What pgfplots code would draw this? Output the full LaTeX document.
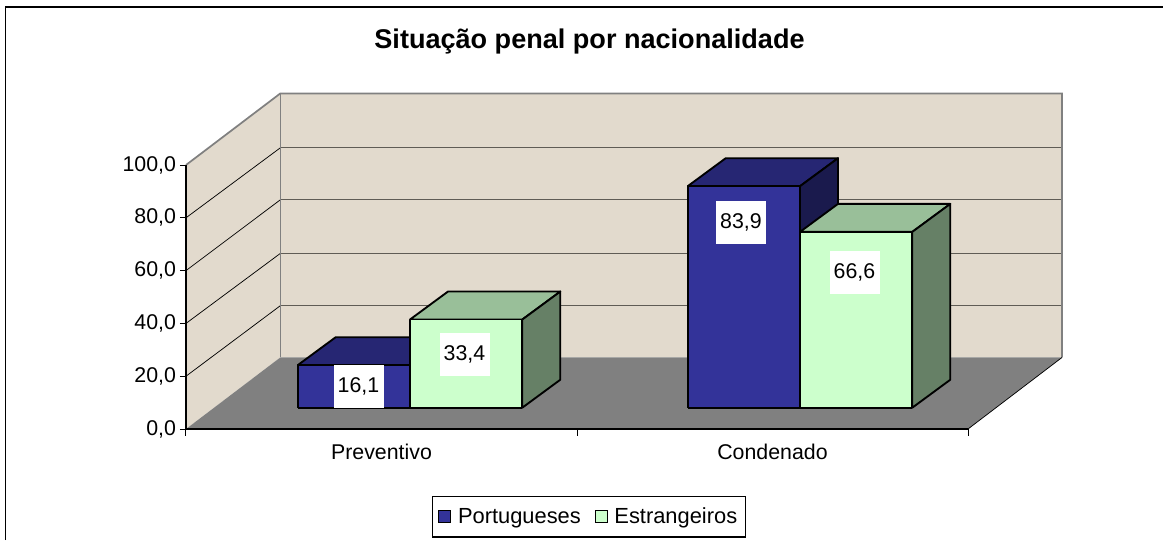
\documentclass[border=0pt]{standalone}
\usepackage{pgfplots}
\pgfplotsset{compat=1.18}
\usepackage{fontspec}
\setmainfont{Liberation Sans}
\definecolor{wall}{RGB}{226,218,205}
\definecolor{floorc}{RGB}{128,128,128}
\definecolor{gridc}{RGB}{95,92,85}
\definecolor{bluef}{RGB}{51,51,153}
\definecolor{bluet}{RGB}{38,38,115}
\definecolor{blues}{RGB}{26,26,77}
\definecolor{greenf}{RGB}{204,255,204}
\definecolor{greent}{RGB}{153,191,153}
\definecolor{greens}{RGB}{102,128,102}
\newcommand\threedbar[6]{% x0, x1, value, front, top, side
  \pgfmathsetmacro\ytop{8.07+#3}%
  \pgfmathsetmacro\ybtop{8.07+#3+10.6}%
  \pgfmathsetmacro\xba{#1+38}%
  \pgfmathsetmacro\xbb{#2+38}%
  \addplot[draw=black,line width=1.4pt,line join=round,fill=#5,forget plot] coordinates {(#1,\ytop) (\xba,\ybtop) (\xbb,\ybtop) (#2,\ytop) (#1,\ytop)};
  \addplot[draw=black,line width=1.4pt,line join=round,fill=#6,forget plot] coordinates {(#2,8.07) (\xbb,18.67) (\xbb,\ybtop) (#2,\ytop) (#2,8.07)};
  \addplot[draw=black,line width=1.4pt,line join=round,fill=#4,forget plot] coordinates {(#1,8.07) (#1,\ytop) (#2,\ytop) (#2,8.07) (#1,8.07)};
}
\begin{document}
\begin{tikzpicture}[x=1pt,y=1pt]
\useasboundingbox (-139.5pt,-83.25pt) rectangle (732.75pt,321.75pt);
\begin{axis}[
  at={(0pt,0pt)},anchor=origin,
  scale only axis,width=586.5pt,height=198pt,
  xmin=186,xmax=968,ymin=0,ymax=100,
  clip=false,
  axis line style={black,line width=0.9pt},
  axis x line*=bottom,axis y line*=left,
  axis on top=true,
  xtick={381.5,772.5},xticklabels={Preventivo,Condenado},
  minor xtick={186,577,968},
  major x tick style={draw=none},
  minor x tick style={black,line width=0.75pt},
  minor tick length=5pt,
  ytick={0,20,40,60,80,100},
  major tick length=4.5pt,
  tick align=outside,
  ytick style={black,line width=0.75pt},
  yticklabel style={/pgf/number format/fixed,/pgf/number format/fixed zerofill,/pgf/number format/precision=1,/pgf/number format/use comma,/pgf/number format/assume math mode=true,xshift=0.5pt},
  scaled y ticks=false,
  tick label style={font=\fontsize{16}{19}\selectfont},
  xticklabel style={yshift=-3.5pt},
  legend style={at={(axis cs:589,-33.2)},anchor=center,draw=black,line width=0.9pt,
    legend columns=2,font=\fontsize{16.4}{19}\selectfont,inner xsep=4.5pt,inner ysep=6.5pt,
    /tikz/every even column/.append style={column sep=8.25pt}},
  legend image code/.code={\draw[#1,line width=1pt,draw=black] (0pt,-4.5pt) rectangle (9pt,4.5pt);\path (12pt,0pt);},
]
% walls and floor
\addplot[draw=none,fill=wall,forget plot] coordinates {(186,0) (280.3,27.1) (280.3,127.1) (186,100) (186,0)};
\addplot[draw=none,fill=wall,forget plot] coordinates {(280.3,27.1) (1062,27.1) (1062,127.1) (280.3,127.1) (280.3,27.1)};
\addplot[draw=none,fill=floorc,forget plot] coordinates {(186,0) (968,0) (1062,27.1) (280.3,27.1) (186,0)};
% gridlines on the side wall and on the back wall
\addplot[draw=black,line width=0.55pt,forget plot] coordinates {(186,20) (280.3,46.7)};
\addplot[draw=black,line width=0.55pt,forget plot] coordinates {(186,40) (280.3,66.5)};
\addplot[draw=black,line width=0.55pt,forget plot] coordinates {(186,60) (280.3,86.8)};
\addplot[draw=black,line width=0.55pt,forget plot] coordinates {(186,80) (280.3,106.5)};
\addplot[draw=gridc,line width=0.85pt,forget plot] coordinates {(280.3,46.7) (1062,46.7)};
\addplot[draw=gridc,line width=0.85pt,forget plot] coordinates {(280.3,66.5) (1062,66.5)};
\addplot[draw=gridc,line width=0.85pt,forget plot] coordinates {(280.3,86.8) (1062,86.8)};
\addplot[draw=gridc,line width=0.85pt,forget plot] coordinates {(280.3,106.5) (1062,106.5)};
% wall edges
\addplot[draw=floorc,line width=1.3pt,forget plot] coordinates {(186,100) (280.3,127.1) (1062,127.1) (1062,27.1)};
\addplot[draw=floorc,line width=1.2pt,forget plot] coordinates {(280.3,127.1) (280.3,27.1)};
\addplot[draw=black,line width=0.55pt,forget plot] coordinates {(968,0) (1062,27.1)};
% bars
\threedbar{297.7}{410}{16.1}{bluef}{bluet}{blues}
\threedbar{687.7}{800}{83.9}{bluef}{bluet}{blues}
\threedbar{410}{522.3}{33.4}{greenf}{greent}{greens}
\threedbar{800}{912.3}{66.6}{greenf}{greent}{greens}
% data labels
\node[fill=white,inner sep=0pt,minimum width=37.5pt,minimum height=32pt,font=\fontsize{16}{19}\selectfont] at (axis cs:358.5,16) {16,1};
\node[fill=white,inner sep=0pt,minimum width=37.5pt,minimum height=32pt,font=\fontsize{16}{19}\selectfont] at (axis cs:464.5,28.2) {33,4};
\node[fill=white,inner sep=0pt,minimum width=37.5pt,minimum height=32pt,font=\fontsize{16}{19}\selectfont] at (axis cs:741,78.2) {83,9};
\node[fill=white,inner sep=0pt,minimum width=37.5pt,minimum height=32pt,font=\fontsize{16}{19}\selectfont] at (axis cs:854.5,59.4) {66,6};
% legend entries
\addlegendimage{fill=bluef}
\addlegendentry{Portugueses}
\addlegendimage{fill=greenf}
\addlegendentry{Estrangeiros\hspace{3pt}}
% title
\node[font=\bfseries\fontsize{20.3}{24}\selectfont] at (axis cs:589.5,146.6) {Situação penal por nacionalidade};
\end{axis}
\draw[black,line width=1.1pt] (-135.5pt,-83.25pt) -- (-135.5pt,316.5pt) -- (732.75pt,316.5pt);
\end{tikzpicture}
\end{document}
